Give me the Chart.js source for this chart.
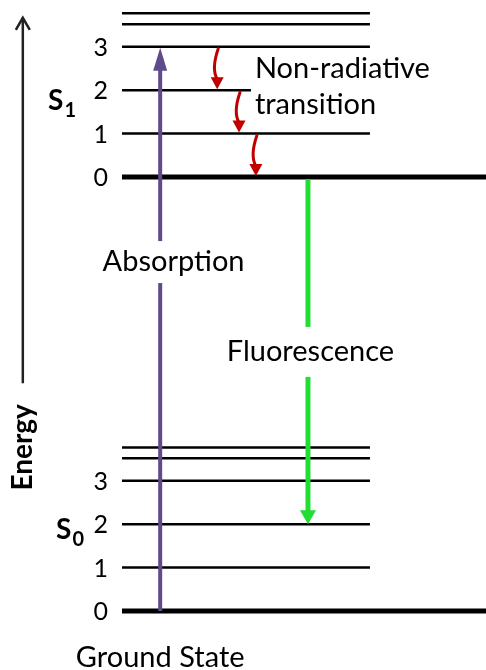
<!DOCTYPE html>
<html>
<head>
<meta charset="utf-8">
<script src="https://cdn.jsdelivr.net/npm/chart.js@4/dist/chart.umd.min.js"></script>
<style>
  html, body { margin: 0; padding: 0; background: #ffffff; }
  #wrap { width: 486px; height: 670px; }
</style>
</head>
<body>
<div id="wrap"><canvas id="c" width="486" height="670"></canvas></div>
<script>
// ---- data (energy in level units) ----
const stateNames = ['S0', 'S1'];
const stateBase = [0, 10];                       // energy of the v=0 level of each state
const vibLevels = [0, 1, 2, 3, 3.52, 3.77];      // vibrational levels above each state's base
const tickLabels = ['0', '1', '2', '3'];         // level numbers shown at the left
const shortLevel = [12];                          // S1 v=2 line is drawn shorter
const absorption = { from: 0, to: 13 };
const fluorescence = { from: 10, to: 2 };
const nonRadiative = [ { from: 13, to: 12 }, { from: 12, to: 11 }, { from: 11, to: 10 } ];
const energyAxis = { from: 5.25, to: 13.69 };

// ---- horizontal layout in x units ----
const X_MIN = -2.46, X_MAX = 7.34;
const LINE_START = 0, LINE_END = 5, SHORT_END = 2.6;
const X_ABS = 0.77, X_FLU = 3.75, X_AXIS = -2.0, X_TICK = -0.28;
const X_NR = [1.94, 2.38, 2.72];

const datasets = [];
stateBase.forEach(base => {
  vibLevels.forEach(v => {
    const e = base + v;
    const ground = v === 0;
    const end = ground ? X_MAX : (shortLevel.includes(e) ? SHORT_END : LINE_END);
    datasets.push({
      data: [{ x: LINE_START, y: e }, { x: end, y: e }],
      borderColor: '#000000',
      borderWidth: ground ? 5 : 2.5,
      pointRadius: 0,
      showLine: true,
      borderCapStyle: 'butt',
      fill: false
    });
  });
});

function arrowHead(ctx, x, y, dir, w, h, color) {
  ctx.fillStyle = color;
  ctx.beginPath();
  ctx.moveTo(x, y);
  ctx.lineTo(x - w / 2, y - dir * h);
  ctx.lineTo(x + w / 2, y - dir * h);
  ctx.closePath();
  ctx.fill();
}

const diagramPlugin = {
  id: 'diagram',
  afterDatasetsDraw(chart) {
    const ctx = chart.ctx;
    const xs = chart.scales.x, ys = chart.scales.y;
    const px = v => xs.getPixelForValue(v);
    const py = v => ys.getPixelForValue(v);
    ctx.save();

    // Absorption arrow (up)
    {
      const x = px(X_ABS), y0 = py(absorption.from), y1 = py(absorption.to);
      const color = '#5F4B8B';
      ctx.strokeStyle = color; ctx.lineWidth = 4; ctx.lineCap = 'butt';
      ctx.beginPath(); ctx.moveTo(x, y0); ctx.lineTo(x, y1 + 20); ctx.stroke();
      arrowHead(ctx, x, y1 + 1, -1, 14, 23, color);
    }
    // Fluorescence arrow (down)
    {
      const x = px(X_FLU), y0 = py(fluorescence.from) + 2, y1 = py(fluorescence.to);
      const color = '#22DD33';
      ctx.strokeStyle = color; ctx.lineWidth = 5; ctx.lineCap = 'butt';
      ctx.beginPath(); ctx.moveTo(x, y0); ctx.lineTo(x, y1 - 12); ctx.stroke();
      arrowHead(ctx, x, y1, 1, 16, 14, color);
    }
    // Non-radiative wavy arrows
    nonRadiative.forEach((a, i) => {
      const x = px(X_NR[i]);
      const y0 = py(a.from) + 2, y1 = py(a.to) - 1;
      const color = '#C00000';
      ctx.strokeStyle = color; ctx.lineWidth = 3; ctx.lineCap = 'round';
      ctx.beginPath();
      ctx.moveTo(x, y0);
      ctx.quadraticCurveTo(x - 7, (y0 + y1) / 2, x - 1, y1 - 10);
      ctx.stroke();
      arrowHead(ctx, x - 1, y1, 1, 13, 12, color);
    });
    // Energy axis arrow (open head)
    {
      const x = px(X_AXIS), y0 = py(energyAxis.from), y1 = py(energyAxis.to);
      ctx.strokeStyle = '#222222'; ctx.lineWidth = 2.5; ctx.lineCap = 'butt';
      ctx.beginPath(); ctx.moveTo(x, y0); ctx.lineTo(x, y1 + 1); ctx.stroke();
      ctx.lineJoin = 'miter';
      ctx.beginPath();
      ctx.moveTo(x - 7, y1 + 13); ctx.lineTo(x, y1 + 1); ctx.lineTo(x + 7, y1 + 13);
      ctx.stroke();
    }

    // ---- texts ----
    ctx.fillStyle = '#000000';
    ctx.textBaseline = 'middle';
    // level numbers
    ctx.font = '25px Lato';
    ctx.textAlign = 'right';
    stateBase.forEach(base => {
      tickLabels.forEach((t, i) => {
        ctx.fillText(t, px(X_TICK), py(base + i) + 1);
      });
    });
    // state labels S0 / S1 (baseline positions in level units)
    const stateLabelY = [1.66, 11.54];
    const stateLabelX = [-1.33, -1.49];
    stateNames.forEach((n, i) => {
      const x = px(stateLabelX[i]), y = py(stateLabelY[i]);
      ctx.textAlign = 'left';
      ctx.textBaseline = 'alphabetic';
      ctx.font = 'bold 28px Lato';
      ctx.fillText(n[0], x, y);
      const w = ctx.measureText(n[0]).width;
      ctx.font = 'bold 20px Lato';
      ctx.fillText(n.slice(1), x + w + 1, y + 7);
    });

    // boxed labels (white background hides arrows)
    function boxed(text, xv, yv, font, padY) {
      ctx.font = font;
      ctx.textAlign = 'center';
      ctx.textBaseline = 'middle';
      const w = ctx.measureText(text).width;
      const x = px(xv), y = py(yv);
      ctx.fillStyle = '#ffffff';
      ctx.fillRect(x - w / 2 - 4, y - padY, w + 8, padY * 2);
      ctx.fillStyle = '#000000';
      ctx.fillText(text, x, y);
    }
    boxed('Absorption', 1.04, 8.04, '29px Lato', 21);
    boxed('Fluorescence', 3.80, 5.97, '29px Lato', 25);

    ctx.textAlign = 'left';
    ctx.textBaseline = 'alphabetic';
    ctx.font = '29px Lato';
    ctx.fillText('Non-radiative', px(2.68), py(12.28));
    ctx.fillText('transition', px(2.68), py(11.44));

    ctx.textAlign = 'center';
    ctx.fillText('Ground State', px(X_ABS), py(-1.29));

    // Energy (rotated)
    ctx.save();
    ctx.translate(px(X_AXIS), py(3.77));
    ctx.rotate(-Math.PI / 2);
    ctx.font = 'bold 28px Lato';
    ctx.textAlign = 'center';
    ctx.textBaseline = 'middle';
    ctx.fillText('Energy', 0, 0);
    ctx.restore();

    ctx.restore();
  }
};

new Chart(document.getElementById('c'), {
  type: 'scatter',
  data: { datasets },
  options: {
    responsive: false,
    animation: false,
    devicePixelRatio: 1,
    layout: { padding: 0 },
    plugins: { legend: { display: false }, tooltip: { enabled: false } },
    scales: {
      x: { type: 'linear', min: X_MIN, max: X_MAX, display: false },
      y: { type: 'linear', min: -1.359, max: 14.078, display: false }
    }
  },
  plugins: [diagramPlugin]
});
</script>
</body>
</html>
